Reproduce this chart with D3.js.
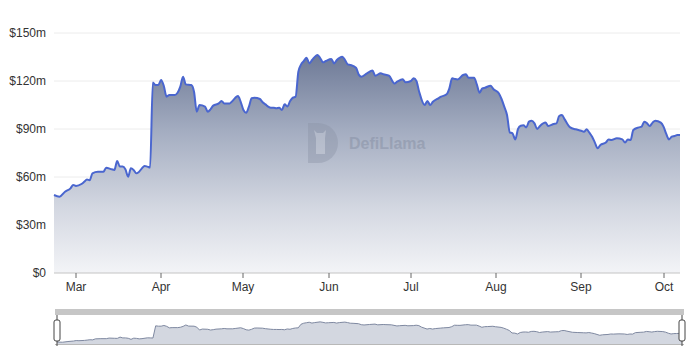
<!DOCTYPE html>
<html>
<head>
<meta charset="utf-8">
<script src="https://cdn.jsdelivr.net/npm/d3@7"></script>
<style>
    body { margin: 0; background: #fff; }
    svg { font-family: "Liberation Sans", Arial, sans-serif; }
</style>
</head>
<body>
<svg id="chart" width="691" height="352"></svg>
<script>
// TVL in $m
var dates = [
    "2023-02-21", "2023-02-23", "2023-02-25", "2023-02-27", "2023-02-28",
    "2023-03-01", "2023-03-03", "2023-03-04", "2023-03-05", "2023-03-06", "2023-03-07", "2023-03-09",
    "2023-03-11", "2023-03-12", "2023-03-14", "2023-03-15", "2023-03-16", "2023-03-17", "2023-03-18",
    "2023-03-19", "2023-03-20", "2023-03-21", "2023-03-22", "2023-03-23", "2023-03-24", "2023-03-26",
    "2023-03-27", "2023-03-28", "2023-03-29", "2023-03-30", "2023-03-31",
    "2023-04-01", "2023-04-02", "2023-04-03", "2023-04-04", "2023-04-06", "2023-04-07", "2023-04-08",
    "2023-04-09", "2023-04-10", "2023-04-12", "2023-04-13", "2023-04-14", "2023-04-15", "2023-04-17",
    "2023-04-18", "2023-04-19", "2023-04-20", "2023-04-22", "2023-04-23", "2023-04-24", "2023-04-26",
    "2023-04-27", "2023-04-29", "2023-04-30",
    "2023-05-01", "2023-05-02", "2023-05-03", "2023-05-04", "2023-05-05", "2023-05-07", "2023-05-08",
    "2023-05-09", "2023-05-10", "2023-05-11", "2023-05-12", "2023-05-13", "2023-05-14", "2023-05-15",
    "2023-05-16", "2023-05-17", "2023-05-18", "2023-05-19", "2023-05-20", "2023-05-21", "2023-05-22",
    "2023-05-23", "2023-05-24", "2023-05-25", "2023-05-26", "2023-05-28", "2023-05-29", "2023-05-30",
    "2023-05-31",
    "2023-06-02", "2023-06-03", "2023-06-04", "2023-06-06", "2023-06-07", "2023-06-08", "2023-06-09",
    "2023-06-11", "2023-06-12", "2023-06-13", "2023-06-15", "2023-06-17", "2023-06-18", "2023-06-20",
    "2023-06-21", "2023-06-23", "2023-06-25", "2023-06-26", "2023-06-28", "2023-06-29",
    "2023-07-01", "2023-07-02", "2023-07-03", "2023-07-04", "2023-07-06", "2023-07-07", "2023-07-08",
    "2023-07-09", "2023-07-11", "2023-07-12", "2023-07-14", "2023-07-15", "2023-07-16", "2023-07-17",
    "2023-07-18", "2023-07-20", "2023-07-21", "2023-07-22", "2023-07-24", "2023-07-25", "2023-07-26",
    "2023-07-27", "2023-07-28", "2023-07-30", "2023-07-31",
    "2023-08-02", "2023-08-03", "2023-08-04", "2023-08-05", "2023-08-06", "2023-08-07", "2023-08-08",
    "2023-08-09", "2023-08-10", "2023-08-11", "2023-08-12", "2023-08-13", "2023-08-14", "2023-08-15",
    "2023-08-16", "2023-08-17", "2023-08-19", "2023-08-20", "2023-08-22", "2023-08-23", "2023-08-24",
    "2023-08-25", "2023-08-26", "2023-08-28", "2023-08-30",
    "2023-09-01", "2023-09-02", "2023-09-03", "2023-09-04", "2023-09-05", "2023-09-06", "2023-09-07",
    "2023-09-08", "2023-09-10", "2023-09-11", "2023-09-12", "2023-09-14", "2023-09-16", "2023-09-17",
    "2023-09-18", "2023-09-19", "2023-09-20", "2023-09-22", "2023-09-23", "2023-09-24", "2023-09-25",
    "2023-09-26", "2023-09-27", "2023-09-28", "2023-09-30",
    "2023-10-01", "2023-10-02", "2023-10-03", "2023-10-04", "2023-10-05", "2023-10-06", "2023-10-07"
]

var tvl = [
    48.75, 47.7, 50.8, 52.9, 55,
    54.4, 55.6, 57, 58.5, 58, 62.3, 63.3,
    63.3, 65.8, 64.8, 64.4, 70, 66.5, 66.5,
    64.8, 60.2, 65.4, 64.4, 62.3, 63.3, 66.9,
    66.5, 66, 119, 117.5, 117.5,
    120.6, 116.9, 110.2, 111.25, 111.25, 112.7, 116.5,
    122.7, 117.9, 117.5, 113.3, 100.8, 105, 104,
    100.8, 102.3, 104.6, 106, 107.5, 106, 106,
    107.5, 110.6, 107,
    101.9, 100.2, 104, 109.2, 109.6, 108.75, 106.7,
    105.4, 104, 103.3, 103.3, 102.9, 103.3, 101.9,
    105.4, 104, 107.5, 109.6, 110.2, 125.8, 130.4,
    132.5, 134.6, 131, 133.1, 136.25, 134.2, 131.7,
    132.5,
    133.75, 131, 133.1, 135.2, 133.1, 130.4, 130,
    128.3, 124, 122.7, 124.8, 126.5, 123.3, 124.8,
    124.2, 123.3, 118.5, 119.6, 121.1, 119.2,
    120, 121.7, 120, 113.3, 105, 107.5, 105,
    107, 109.2, 110.2, 111.7, 115.4, 121.7, 121.25,
    121, 123.75, 124.2, 122, 122, 117.9, 112.7,
    115.4, 115.8, 117.1, 115,
    112.3, 108.75, 104, 98.75, 87.9, 87.3, 83.5,
    90, 92, 92.3, 91, 94.6, 95.2, 93.5,
    90, 91.9, 94, 91.9, 93.1, 93.5, 98.1,
    98.75, 96, 91, 89.8,
    88.9, 88.3, 89.8, 87.7, 85.2, 81.5, 77.9,
    80, 81.5, 83.5, 83.1, 84.2, 83.5, 81.5,
    83.5, 83.1, 89.4, 91, 91.5, 94.6, 93.5,
    91.9, 94, 95.2, 94,
    91.5, 86.9, 83.5, 85.2, 85.6, 86.25, 86.25
]

var yTicks = [0, 30, 60, 90, 120, 150]
var monthTicks = ["2023-03-01", "2023-04-01", "2023-05-01", "2023-06-01",
    "2023-07-01", "2023-08-01", "2023-09-01", "2023-10-01"]
var monthLabels = ["Mar", "Apr", "May", "Jun", "Jul", "Aug", "Sep", "Oct"]

function drawChart() {
    var parse = d3.timeParse("%Y-%m-%d")
    var data = dates.map(function(d, i) { return { date: parse(d), value: tvl[i] } })

    var plotLeft = 54, plotRight = 680, plotTop = 33, plotBottom = 273

    var svg = d3.select("#chart")

    var x = d3.scaleTime()
        .domain([parse(dates[0]), parse(dates[dates.length - 1])])
        .range([plotLeft, plotRight])

    var y = d3.scaleLinear()
        .domain([0, 150])
        .range([plotBottom, plotTop])

    // gradient for the area
    var grad = svg.append("defs").append("linearGradient")
        .attr("id", "areaFill")
        .attr("x1", "0%").attr("y1", "0%")
        .attr("x2", "0%").attr("y2", "100%")
    grad.append("stop").attr("offset", "0%").attr("stop-color", "#6e7a97")
    grad.append("stop").attr("offset", "35%").attr("stop-color", "#a4adc1")
    grad.append("stop").attr("offset", "70%").attr("stop-color", "#d3d7e1")
    grad.append("stop").attr("offset", "100%").attr("stop-color", "#f3f4f7")

    // grid lines
    svg.append("g").selectAll("line")
        .data(yTicks.slice(1))
        .enter().append("line")
        .attr("x1", plotLeft).attr("x2", plotRight)
        .attr("y1", function(d) { return y(d) })
        .attr("y2", function(d) { return y(d) })
        .style("stroke", "#ececec")
        .style("stroke-width", 1)

    // y labels
    svg.append("g").selectAll("text")
        .data(yTicks)
        .enter().append("text")
        .attr("x", 46)
        .attr("y", function(d) { return y(d) })
        .attr("dy", ".35em")
        .attr("text-anchor", "end")
        .style("font-size", "12px")
        .style("fill", "#333")
        .text(function(d) { return d === 0 ? "$0" : "$" + d + "m" })

    // area + line
    var area = d3.area()
        .x(function(d) { return x(d.date) })
        .y0(y(0))
        .y1(function(d) { return y(d.value) })
        .curve(d3.curveMonotoneX)

    var line = d3.line()
        .x(function(d) { return x(d.date) })
        .y(function(d) { return y(d.value) })
        .curve(d3.curveMonotoneX)

    svg.append("path")
        .datum(data)
        .attr("d", area)
        .style("fill", "url(#areaFill)")

    // watermark
    var wm = svg.append("g")
        .attr("transform", "translate(308,123)")
        .style("opacity", 0.4)
    wm.append("path")
        .attr("d", "M0,0 H10 A20,20 0 0 1 10,40 H0 Z")
        .style("fill", "#8b93a6")
    wm.append("path")
        .attr("d", "M8,31 V15 L6,7 L9,10 H15 L18,7 L17,15 V31 Z")
        .style("fill", "#c8ccd6")
    wm.append("text")
        .attr("x", 41)
        .attr("y", 26)
        .style("font-size", "16px")
        .style("font-weight", "bold")
        .style("fill", "#7c859a")
        .text("DefiLlama")

    svg.append("path")
        .datum(data)
        .attr("d", line)
        .style("fill", "none")
        .style("stroke", "#4a66cf")
        .style("stroke-width", 2)

    // x axis
    svg.append("line")
        .attr("x1", plotLeft).attr("x2", plotRight)
        .attr("y1", plotBottom).attr("y2", plotBottom)
        .style("stroke", "#c4c4c4")

    var xt = svg.append("g").selectAll("g")
        .data(monthTicks)
        .enter().append("g")
        .attr("transform", function(d) { return "translate(" + Math.round(x(parse(d))) + "," + plotBottom + ")" })

    xt.append("line")
        .attr("y1", 0).attr("y2", 5)
        .style("stroke", "#666")

    xt.append("text")
        .attr("y", 18)
        .attr("text-anchor", "middle")
        .style("font-size", "12px")
        .style("fill", "#333")
        .text(function(d, i) { return monthLabels[i] })

    // data zoom slider
    var sx = d3.scaleTime().domain(x.domain()).range([57, 682])
    var sy = d3.scaleLinear().domain([40, 140]).range([344, 321])

    svg.append("rect")
        .attr("x", 55).attr("y", 309)
        .attr("width", 629).attr("height", 6)
        .style("fill", "#c6c6c6")

    svg.append("path")
        .datum(data)
        .attr("d", d3.area()
            .x(function(d) { return sx(d.date) })
            .y0(344)
            .y1(function(d) { return sy(d.value) }))
        .style("fill", "#d3d7e0")

    svg.append("path")
        .datum(data)
        .attr("d", d3.line()
            .x(function(d) { return sx(d.date) })
            .y(function(d) { return sy(d.value) }))
        .style("fill", "none")
        .style("stroke", "#7f89a1")
        .style("stroke-width", 1)

    svg.append("line")
        .attr("x1", 55).attr("x2", 684)
        .attr("y1", 344.5).attr("y2", 344.5)
        .style("stroke", "#b8b8b8")

    var handles = svg.append("g").selectAll("g")
        .data([57, 682])
        .enter().append("g")
        .attr("transform", function(d) { return "translate(" + d + ",0)" })

    handles.append("line")
        .attr("y1", 315).attr("y2", 346)
        .style("stroke", "#444")

    handles.append("rect")
        .attr("x", -3).attr("y", 320)
        .attr("width", 6).attr("height", 21)
        .attr("rx", 2)
        .style("fill", "#fff")
        .style("stroke", "#444")
}

drawChart()
</script>
</body>
</html>
